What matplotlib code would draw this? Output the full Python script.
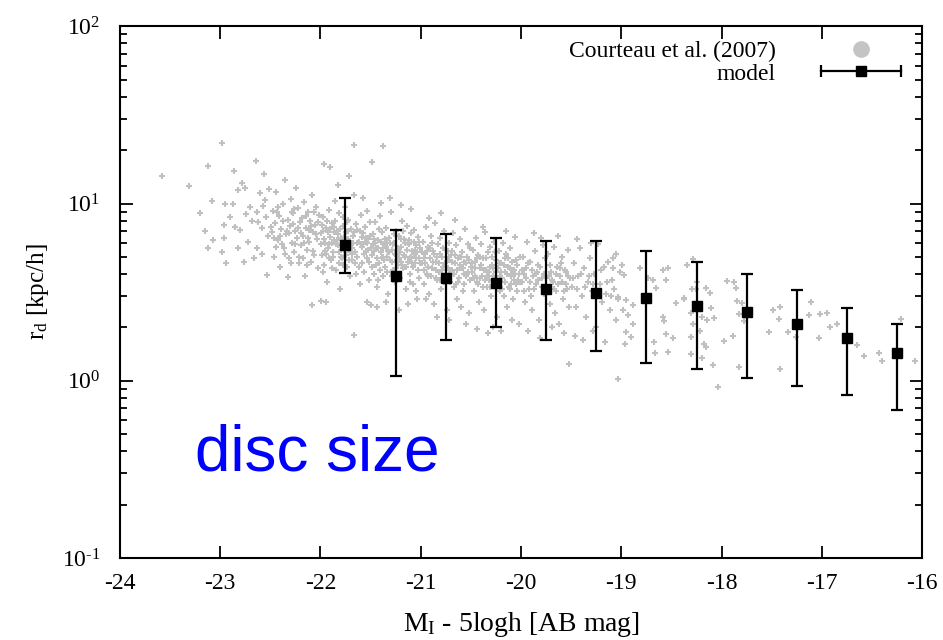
import matplotlib
matplotlib.use("Agg")
import matplotlib.pyplot as plt
from matplotlib.lines import Line2D
from matplotlib.legend_handler import HandlerLine2D
from matplotlib.ticker import LogLocator, MultipleLocator, FuncFormatter
import numpy as np

plt.rcParams['font.family'] = ['Liberation Serif', 'DejaVu Serif']
plt.rcParams['mathtext.fontset'] = 'custom'
plt.rcParams['mathtext.rm'] = 'Liberation Serif'
plt.rcParams['mathtext.it'] = 'Liberation Serif:italic'
plt.rcParams['axes.unicode_minus'] = False

# model: binned mean disc scale length with error bars
model_mag = [-21.75, -21.25, -20.75, -20.25, -19.75, -19.25,
             -18.75, -18.25, -17.75, -17.25, -16.75, -16.25]
model_rd = [5.86, 3.89, 3.78, 3.57, 3.29, 3.11, 2.95, 2.64, 2.43, 2.09, 1.74, 1.44]
model_hi = [10.7, 7.1, 6.7, 6.37, 6.18, 6.18, 5.38, 4.70, 3.99, 3.27, 2.56, 2.10]
model_lo = [4.08, 1.07, 1.69, 2.0, 1.69, 1.48, 1.26, 1.16, 1.04, 0.93, 0.834, 0.687]

# Courteau et al. (2007) galaxies (mag, r_d)
obs = [
    # bright, sparse end
    (-23.58, 14.3), (-23.31, 12.6), (-22.98, 22.0), (-23.12, 16.2), (-23.08, 10.4), (-22.95, 9.9),
    (-22.87, 10.0), (-22.86, 15.3), (-22.82, 11.9), (-22.78, 13.1), (-22.75, 12.2), (-22.64, 17.3),
    (-22.56, 14.6), (-23.12, 5.6), (-22.94, 4.6), (-22.76, 4.7), (-22.96, 7.6), (-22.96, 6.4),
    (-23.07, 6.2), (-22.98, 5.3), (-22.85, 7.4), (-22.80, 7.1), (-22.82, 5.6), (-22.63, 5.6),
    (-22.68, 8.0), (-22.63, 9.0), (-22.53, 3.94), (-22.58, 7.3), (-22.55, 10.5), (-22.60, 11.4),
    (-22.52, 6.6), (-22.70, 9.6), (-22.90, 8.4), (-23.20, 8.8), (-23.15, 7.0), (-22.72, 6.1),
    (-22.66, 4.9), (-22.58, 5.2), (-22.54, 8.4), (-22.62, 7.9), (-22.74, 8.7), (-22.51, 12.0),
    (-22.57, 9.7),
    # -22.5 .. -22
    (-22.48, 6.9), (-22.47, 9.1), (-22.46, 5.0), (-22.45, 7.8), (-22.44, 11.6), (-22.42, 6.2),
    (-22.41, 8.5), (-22.40, 4.4), (-22.39, 7.2), (-22.37, 9.9), (-22.36, 5.6), (-22.35, 13.6),
    (-22.34, 6.7), (-22.32, 8.1), (-22.31, 4.9), (-22.30, 7.5), (-22.29, 10.6), (-22.28, 6.0),
    (-22.27, 8.8), (-22.26, 5.3), (-22.25, 7.0), (-22.24, 12.3), (-22.23, 6.4), (-22.22, 9.4),
    (-22.21, 4.6), (-22.20, 7.9), (-22.19, 5.8), (-22.18, 8.3), (-22.17, 6.6), (-22.16, 10.2),
    (-22.15, 3.9), (-22.14, 7.3), (-22.13, 5.5), (-22.12, 9.0), (-22.11, 6.1), (-22.10, 8.0),
    (-22.09, 4.7), (-22.08, 11.1), (-22.07, 6.9), (-22.06, 5.1), (-22.05, 7.6), (-22.04, 9.6),
    (-22.03, 6.3), (-22.02, 4.3), (-22.01, 8.6), (-22.46, 6.4), (-22.33, 7.0), (-22.21, 5.0),
    (-22.11, 7.1), (-22.38, 5.9), (-22.27, 7.7), (-22.16, 6.0), (-22.06, 8.9), (-22.32, 3.84),
    (-22.08, 2.69), (-22.42, 9.6), (-22.26, 9.3),
    (-22.49, 7.4), (-22.44, 5.7), (-22.40, 6.6), (-22.37, 8.0), (-22.35, 5.2), (-22.31, 6.8),
    (-22.28, 9.0), (-22.25, 5.9), (-22.22, 7.3), (-22.19, 6.8), (-22.17, 4.9), (-22.14, 8.5),
    (-22.12, 6.4), (-22.09, 7.5), (-22.07, 5.4), (-22.04, 6.7), (-22.02, 7.9), (-22.43, 8.9),
    (-22.29, 4.6), (-22.13, 4.5),
    # -22 .. -21.5
    (-21.99, 6.8), (-21.98, 5.1), (-21.97, 8.4), (-21.96, 4.5), (-21.95, 6.0), (-21.94, 7.3),
    (-21.93, 3.6), (-21.92, 5.6), (-21.91, 9.2), (-21.90, 6.5), (-21.89, 4.8), (-21.88, 7.8),
    (-21.87, 5.3), (-21.86, 6.2), (-21.85, 10.3), (-21.84, 4.2), (-21.83, 7.0), (-21.82, 5.8),
    (-21.81, 8.8), (-21.80, 3.3), (-21.79, 6.4), (-21.78, 4.9), (-21.77, 7.5), (-21.76, 5.5),
    (-21.75, 9.6), (-21.74, 6.9), (-21.73, 4.4), (-21.72, 8.1), (-21.71, 5.9), (-21.70, 3.9),
    (-21.69, 7.2), (-21.68, 5.2), (-21.67, 6.6), (-21.66, 11.2), (-21.65, 4.6), (-21.64, 7.7),
    (-21.63, 5.0), (-21.62, 6.1), (-21.61, 3.5), (-21.60, 8.6), (-21.59, 5.7), (-21.58, 6.8),
    (-21.57, 4.1), (-21.56, 7.4), (-21.55, 5.4), (-21.54, 9.1), (-21.53, 6.3), (-21.52, 4.7),
    (-21.51, 7.9), (-21.50, 5.6), (-21.98, 7.6), (-21.95, 5.4), (-21.92, 6.9), (-21.88, 4.3),
    (-21.85, 8.0), (-21.82, 6.7), (-21.79, 5.0), (-21.76, 6.5), (-21.73, 7.9), (-21.70, 5.3),
    (-21.67, 6.0), (-21.64, 4.0), (-21.61, 7.0), (-21.58, 5.9), (-21.55, 6.4), (-21.52, 3.7),
    (-21.97, 4.1), (-21.91, 5.9), (-21.86, 6.9), (-21.81, 4.6), (-21.77, 8.4), (-21.72, 6.3),
    (-21.68, 4.8), (-21.63, 7.1), (-21.59, 4.6), (-21.54, 6.0), (-21.94, 2.78), (-21.99, 2.81),
    (-21.66, 1.82), (-21.66, 21.5), (-21.71, 14.3), (-21.82, 12.8), (-21.96, 16.8), (-21.90, 16.0),
    (-21.58, 10.7), (-21.54, 2.78), (-21.50, 2.68),
    (-21.99, 5.9), (-21.97, 7.0), (-21.96, 6.3), (-21.94, 5.2), (-21.93, 8.0), (-21.91, 4.9),
    (-21.90, 7.2), (-21.88, 6.0), (-21.87, 5.0), (-21.86, 7.4), (-21.84, 5.9), (-21.83, 6.2),
    (-21.81, 5.3), (-21.80, 7.2), (-21.78, 5.8), (-21.77, 4.5), (-21.75, 6.2), (-21.74, 5.1),
    (-21.72, 7.0), (-21.71, 4.8), (-21.69, 6.0), (-21.68, 5.6), (-21.66, 6.9), (-21.65, 5.3),
    (-21.63, 6.0), (-21.62, 4.4), (-21.60, 5.9), (-21.59, 6.5), (-21.57, 5.2), (-21.56, 6.1),
    (-21.54, 4.9), (-21.53, 5.5), (-21.51, 6.6),
    # -21.5 .. -21
    (-21.49, 5.1), (-21.48, 6.7), (-21.47, 4.0), (-21.46, 7.9), (-21.45, 5.6), (-21.44, 3.4),
    (-21.43, 6.2), (-21.42, 4.6), (-21.41, 8.5), (-21.40, 5.3), (-21.39, 6.9), (-21.38, 3.9),
    (-21.37, 5.9), (-21.36, 4.4), (-21.35, 7.3), (-21.34, 5.0), (-21.33, 3.1), (-21.32, 6.4),
    (-21.31, 4.8), (-21.30, 9.0), (-21.29, 5.5), (-21.28, 4.2), (-21.27, 6.0), (-21.26, 3.6),
    (-21.25, 7.0), (-21.24, 5.2), (-21.23, 4.5), (-21.22, 6.6), (-21.21, 3.8), (-21.20, 5.7),
    (-21.19, 8.0), (-21.18, 4.3), (-21.17, 6.3), (-21.16, 5.0), (-21.15, 3.3), (-21.14, 7.5),
    (-21.13, 4.7), (-21.12, 5.9), (-21.11, 4.0), (-21.10, 6.8), (-21.09, 5.4), (-21.08, 3.5),
    (-21.07, 7.1), (-21.06, 4.6), (-21.05, 5.8), (-21.04, 2.9), (-21.03, 6.5), (-21.02, 4.9),
    (-21.01, 5.6), (-21.48, 5.9), (-21.45, 4.5), (-21.42, 7.2), (-21.39, 4.9), (-21.36, 6.3),
    (-21.33, 5.4), (-21.30, 4.1), (-21.27, 6.7), (-21.24, 4.8), (-21.21, 5.3), (-21.18, 7.0),
    (-21.15, 4.4), (-21.12, 6.2), (-21.09, 4.6), (-21.06, 5.5), (-21.03, 4.2), (-21.47, 6.3),
    (-21.43, 3.7), (-21.38, 5.0), (-21.34, 6.0), (-21.29, 3.9), (-21.25, 5.1), (-21.20, 4.7),
    (-21.16, 6.0), (-21.11, 3.6), (-21.07, 5.2), (-21.02, 6.1), (-21.44, 2.6), (-21.35, 2.8),
    (-21.22, 2.5), (-21.13, 2.7), (-21.05, 3.2), (-21.38, 21.0), (-21.49, 17.2), (-21.31, 10.8),
    (-21.20, 9.8), (-21.10, 9.3), (-21.40, 10.1),
    (-21.49, 4.4), (-21.47, 5.4), (-21.46, 6.0), (-21.44, 4.9), (-21.43, 5.6), (-21.41, 4.2),
    (-21.40, 6.1), (-21.38, 5.6), (-21.37, 4.8), (-21.35, 5.7), (-21.34, 4.1), (-21.32, 5.3),
    (-21.31, 6.0), (-21.29, 4.7), (-21.28, 5.9), (-21.26, 5.2), (-21.25, 4.3), (-21.23, 5.6),
    (-21.22, 4.9), (-21.20, 6.3), (-21.19, 4.5), (-21.17, 5.1), (-21.16, 4.4), (-21.14, 5.5),
    (-21.13, 6.0), (-21.11, 4.9), (-21.10, 5.0), (-21.08, 4.4), (-21.07, 6.1), (-21.05, 4.9),
    (-21.04, 5.3), (-21.02, 3.8), (-21.01, 4.6),
    # -21 .. -20.5
    (-20.99, 4.6), (-20.98, 6.1), (-20.97, 3.5), (-20.96, 5.2), (-20.95, 7.4), (-20.94, 4.0),
    (-20.93, 5.7), (-20.92, 3.1), (-20.91, 4.9), (-20.90, 6.6), (-20.89, 4.3), (-20.88, 5.4),
    (-20.87, 2.7), (-20.86, 7.8), (-20.85, 4.7), (-20.84, 3.7), (-20.83, 5.9), (-20.82, 4.1),
    (-20.81, 6.4), (-20.80, 3.3), (-20.79, 5.0), (-20.78, 4.4), (-20.77, 7.0), (-20.76, 3.9),
    (-20.75, 5.5), (-20.74, 2.5), (-20.73, 4.8), (-20.72, 6.0), (-20.71, 3.6), (-20.70, 5.1),
    (-20.69, 4.2), (-20.68, 6.8), (-20.67, 3.4), (-20.66, 4.6), (-20.65, 5.8), (-20.64, 2.9),
    (-20.63, 4.9), (-20.62, 3.8), (-20.61, 6.3), (-20.60, 4.3), (-20.59, 5.3), (-20.58, 3.2),
    (-20.57, 4.7), (-20.56, 7.2), (-20.55, 3.9), (-20.54, 5.0), (-20.53, 4.1), (-20.52, 2.4),
    (-20.51, 5.6), (-20.50, 4.4), (-20.97, 4.9), (-20.93, 3.9), (-20.89, 6.0), (-20.85, 4.2),
    (-20.81, 5.2), (-20.77, 3.6), (-20.73, 5.4), (-20.69, 4.7), (-20.65, 3.5), (-20.61, 5.0),
    (-20.57, 4.0), (-20.53, 5.9), (-20.95, 2.9), (-20.84, 2.3), (-20.72, 2.2), (-20.60, 2.6),
    (-20.55, 2.1), (-20.92, 8.3), (-20.80, 8.8), (-20.66, 8.1),
    (-20.99, 5.3), (-20.97, 4.2), (-20.96, 4.6), (-20.94, 5.4), (-20.93, 4.4), (-20.91, 5.6),
    (-20.90, 3.9), (-20.88, 4.7), (-20.87, 5.2), (-20.85, 3.8), (-20.84, 5.0), (-20.82, 4.6),
    (-20.81, 3.7), (-20.79, 4.2), (-20.78, 5.6), (-20.76, 4.6), (-20.75, 3.6), (-20.73, 4.3),
    (-20.72, 5.0), (-20.70, 4.1), (-20.69, 5.4), (-20.67, 4.0), (-20.66, 5.1), (-20.64, 4.2),
    (-20.63, 3.6), (-20.61, 4.5), (-20.60, 5.0), (-20.58, 4.3), (-20.57, 3.5), (-20.55, 4.6),
    (-20.54, 4.0), (-20.52, 4.8), (-20.51, 3.7),
    # -20.5 .. -20
    (-20.49, 4.1), (-20.48, 5.5), (-20.47, 3.2), (-20.46, 4.7), (-20.45, 6.4), (-20.44, 3.6),
    (-20.43, 5.1), (-20.42, 2.8), (-20.41, 4.3), (-20.40, 5.9), (-20.39, 3.9), (-20.38, 4.9),
    (-20.37, 2.5), (-20.36, 6.9), (-20.35, 4.2), (-20.34, 3.4), (-20.33, 5.3), (-20.32, 3.7),
    (-20.31, 5.7), (-20.30, 3.0), (-20.29, 4.5), (-20.28, 3.9), (-20.27, 6.1), (-20.26, 3.5),
    (-20.25, 4.8), (-20.24, 2.3), (-20.23, 4.3), (-20.22, 5.4), (-20.21, 3.2), (-20.20, 4.6),
    (-20.19, 3.8), (-20.18, 6.0), (-20.17, 3.0), (-20.16, 4.1), (-20.15, 5.2), (-20.14, 2.6),
    (-20.13, 4.4), (-20.12, 3.4), (-20.11, 5.6), (-20.10, 3.9), (-20.09, 4.7), (-20.08, 2.9),
    (-20.07, 4.2), (-20.06, 6.5), (-20.05, 3.5), (-20.04, 4.5), (-20.03, 3.7), (-20.02, 2.1),
    (-20.01, 5.0), (-20.46, 3.9), (-20.41, 5.0), (-20.36, 3.7), (-20.31, 4.4), (-20.26, 5.3),
    (-20.21, 3.9), (-20.16, 4.9), (-20.11, 3.3), (-20.06, 4.0), (-20.44, 1.95), (-20.33, 1.85),
    (-20.28, 2.0), (-20.20, 1.9), (-20.09, 2.2), (-20.38, 7.4), (-20.15, 7.0),
    (-20.49, 4.6), (-20.47, 3.8), (-20.46, 4.3), (-20.44, 4.9), (-20.43, 3.5), (-20.41, 3.8),
    (-20.40, 4.5), (-20.38, 3.4), (-20.37, 4.2), (-20.35, 4.9), (-20.34, 3.9), (-20.32, 4.1),
    (-20.31, 3.4), (-20.29, 5.0), (-20.28, 4.3), (-20.26, 3.8), (-20.25, 4.1), (-20.23, 3.6),
    (-20.22, 4.6), (-20.20, 4.1), (-20.19, 3.3), (-20.17, 4.5), (-20.16, 3.6), (-20.14, 4.0),
    (-20.13, 4.9), (-20.11, 4.3), (-20.10, 3.5), (-20.08, 4.1), (-20.07, 3.7), (-20.05, 4.8),
    (-20.04, 3.2), (-20.02, 4.0), (-20.01, 3.6),
    # -20 .. -19.5
    (-19.99, 3.6), (-19.98, 5.0), (-19.96, 2.8), (-19.95, 4.3), (-19.94, 6.1), (-19.92, 3.3),
    (-19.91, 4.7), (-19.89, 2.5), (-19.88, 3.9), (-19.86, 5.4), (-19.85, 3.5), (-19.83, 4.5),
    (-19.82, 2.2), (-19.80, 6.4), (-19.79, 3.8), (-19.77, 3.1), (-19.76, 4.9), (-19.74, 3.4),
    (-19.73, 5.2), (-19.71, 2.7), (-19.70, 4.1), (-19.68, 3.6), (-19.67, 5.7), (-19.65, 3.2),
    (-19.64, 4.4), (-19.62, 2.1), (-19.61, 3.9), (-19.59, 5.0), (-19.58, 2.9), (-19.56, 4.2),
    (-19.55, 3.5), (-19.53, 5.5), (-19.52, 2.6), (-19.51, 3.8), (-19.97, 4.0), (-19.90, 3.0),
    (-19.84, 4.1), (-19.78, 5.8), (-19.72, 3.9), (-19.66, 2.4), (-19.60, 4.6), (-19.54, 3.3),
    (-19.93, 1.9), (-19.81, 1.75), (-19.69, 2.0), (-19.57, 1.85), (-19.87, 6.8), (-19.63, 6.6),
    (-19.52, 1.25),
    (-19.99, 4.2), (-19.97, 3.2), (-19.95, 3.8), (-19.93, 4.6), (-19.91, 3.6), (-19.89, 4.2),
    (-19.87, 3.3), (-19.85, 4.0), (-19.83, 3.7), (-19.81, 4.4), (-19.79, 3.4), (-19.77, 4.0),
    (-19.75, 3.8), (-19.73, 3.2), (-19.71, 4.5), (-19.69, 3.7), (-19.67, 3.3), (-19.65, 4.0),
    (-19.63, 3.5), (-19.61, 4.3), (-19.59, 3.6), (-19.57, 3.2), (-19.55, 4.1), (-19.53, 3.9),
    # -19.5 .. -19
    (-19.49, 3.4), (-19.47, 4.6), (-19.45, 2.6), (-19.43, 3.9), (-19.41, 5.6), (-19.39, 3.0),
    (-19.37, 4.3), (-19.35, 2.3), (-19.33, 3.6), (-19.31, 4.9), (-19.29, 3.2), (-19.27, 4.0),
    (-19.25, 2.0), (-19.23, 5.9), (-19.21, 3.5), (-19.19, 2.8), (-19.17, 4.4), (-19.15, 3.1),
    (-19.13, 4.7), (-19.11, 2.5), (-19.09, 3.7), (-19.07, 3.3), (-19.05, 5.2), (-19.03, 2.9),
    (-19.01, 4.1), (-19.46, 1.8), (-19.38, 1.7), (-19.28, 1.9), (-19.16, 1.65), (-19.44, 6.3),
    (-19.30, 6.0), (-19.48, 3.8), (-19.44, 3.3), (-19.40, 4.0), (-19.36, 3.4), (-19.32, 3.9),
    (-19.28, 3.5), (-19.24, 3.1), (-19.20, 4.2), (-19.14, 3.6), (-19.10, 3.0),
    # -19 .. -18
    (-19.08, 4.9), (-19.08, 4.3), (-18.97, 3.94), (-18.99, 4.5), (-18.81, 4.3), (-18.73, 3.78),
    (-18.68, 3.70), (-18.58, 4.21), (-18.53, 4.3), (-18.55, 3.70), (-18.65, 3.35), (-19.03, 2.97),
    (-18.95, 2.85), (-18.88, 2.67), (-18.98, 2.50), (-18.93, 2.34), (-19.05, 2.20), (-18.88, 2.10),
    (-18.95, 1.89), (-18.90, 1.77), (-18.96, 1.61), (-18.67, 1.66), (-18.66, 1.43), (-18.55, 1.84),
    (-18.58, 2.29), (-18.57, 2.18), (-18.48, 1.74), (-18.53, 1.46), (-18.38, 2.92), (-18.45, 2.73),
    (-18.31, 1.77), (-18.31, 1.41), (-18.29, 2.10), (-18.30, 3.31), (-19.03, 1.03),
    (-18.35, 4.49), (-18.29, 4.85), (-18.38, 2.88), (-18.25, 3.62), (-18.26, 3.31), (-18.16, 3.35),
    (-18.12, 3.11), (-18.11, 2.59), (-18.31, 2.40), (-18.20, 2.29), (-18.15, 2.20), (-18.08, 2.27),
    (-18.31, 1.77), (-18.22, 1.91), (-18.18, 1.61), (-18.16, 1.55), (-18.20, 1.35), (-18.09, 1.22),
    (-18.04, 0.92),
    # faint, sparse end
    (-17.95, 3.66), (-17.88, 3.62), (-17.86, 3.35), (-17.85, 2.83), (-17.80, 2.76), (-17.83, 2.38),
    (-17.78, 2.18), (-17.98, 1.68), (-17.89, 1.78), (-17.83, 1.20), (-17.49, 2.50), (-17.42, 2.60),
    (-17.43, 2.22), (-17.53, 1.89), (-17.34, 1.89), (-17.26, 1.77), (-17.42, 1.17), (-17.11, 2.77),
    (-17.13, 2.34), (-17.02, 2.37), (-17.03, 1.74), (-16.92, 2.01), (-16.58, 1.38), (-16.43, 1.44),
    (-16.21, 2.22), (-16.07, 1.29), (-16.85, 2.10), (-16.65, 1.60), (-16.40, 1.30), (-16.95, 2.40),
]
obs_mag = [p[0] for p in obs]
obs_rd = [p[1] for p in obs]

fig = plt.figure(figsize=(9.43, 6.4), dpi=100)
ax = fig.add_axes([0.127, 0.128, 0.851, 0.831])

ax.plot(obs_mag, obs_rd, '+', color='#c0c0c0', markersize=5, markeredgewidth=1.5,
        linestyle='none', zorder=1)

yerr = [[m - lo for m, lo in zip(model_rd, model_lo)],
        [hi - m for m, hi in zip(model_rd, model_hi)]]
ax.errorbar(model_mag, model_rd, yerr=yerr, fmt='s', color='black', markersize=7,
            elinewidth=1.6, capsize=4, capthick=1.6, zorder=3)

ax.set_yscale('log')
ax.set_xlim(-24, -16)
ax.set_ylim(0.1, 100)
ax.xaxis.set_major_locator(MultipleLocator(1))
ax.yaxis.set_major_locator(LogLocator(base=10))
ax.yaxis.set_minor_locator(LogLocator(base=10, subs=range(2, 10)))
ax.yaxis.set_major_formatter(FuncFormatter(
    lambda v, pos: r'10$^{\mathrm{%s}}$' % str(int(round(np.log10(v)))).replace('-', '\u2010')))
ax.tick_params(which='both', direction='in', top=True, right=True, labelsize=17,
               width=1.3)
ax.tick_params(axis='x', pad=11)
ax.tick_params(axis='y', pad=14)
ax.tick_params(which='major', length=9)
ax.tick_params(which='minor', length=5)
for s in ax.spines.values():
    s.set_linewidth(1.5)

ax.set_xlabel(r'M$_\mathrm{I}$ - 5logh [AB mag]', fontsize=20, labelpad=11)
ax.set_ylabel(r'r$_\mathrm{d}$ [kpc/h]', fontsize=18, labelpad=8)

ax.text(0.0935, 0.165, 'disc size', transform=ax.transAxes, color='#0000ff',
        fontsize=46, family='Liberation Sans', va='baseline', ha='left')

# legend in gnuplot style: text first, sample on the right
h_obs = Line2D([], [], marker='o', color='#c4c4c4', markersize=11, linestyle='none')
h_caps = Line2D([], [], marker='|', color='black', markersize=9, markeredgewidth=1.6,
                linestyle='-', linewidth=1.6)
h_sq = Line2D([], [], marker='s', color='black', markersize=7, linestyle='none')
ax.legend([h_obs, (h_caps, h_sq)], ['Courteau et al. (2007)', 'model'],
          loc='upper right', frameon=False, markerfirst=False, fontsize=17,
          handlelength=4.0, handletextpad=1.6, labelspacing=0.05, borderaxespad=0.2,
          handler_map={h_caps: HandlerLine2D(numpoints=2), h_sq: HandlerLine2D(numpoints=1)})

fig.savefig('out.png', dpi=100)
